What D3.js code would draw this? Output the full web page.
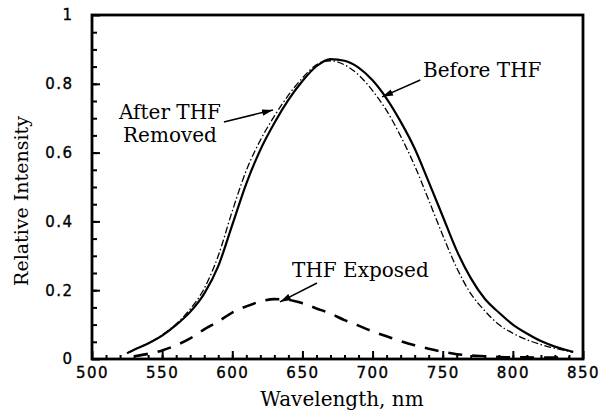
<!DOCTYPE html>
<html>
<head>
<meta charset="utf-8">
<script src="https://cdnjs.cloudflare.com/ajax/libs/d3/7.8.5/d3.min.js"></script>
<style>
  body { margin: 0; background: #fff; }
  .tick text { font-family: "DejaVu Sans", sans-serif; font-size: 15px; letter-spacing: 1.5px; fill: #000; stroke: #000; stroke-width: 0.35px; }
  .serif { font-family: "DejaVu Serif", serif; fill: #000; }
</style>
</head>
<body>
<div id="chart"></div>
<script>
// wavelength (nm) / relative intensity
var beforeWl  = [525, 530, 540, 550, 560, 570, 580, 590, 600, 610, 620, 630, 640, 650, 660, 670, 680, 690, 700, 710, 720, 730, 740, 750, 760, 770, 780, 790, 800, 810, 820, 830, 840, 843];
var beforeVal = [0.017, 0.027, 0.045, 0.068, 0.099, 0.137, 0.19, 0.27, 0.39, 0.51, 0.608, 0.686, 0.753, 0.808, 0.851, 0.872, 0.867, 0.847, 0.81, 0.757, 0.69, 0.612, 0.515, 0.415, 0.315, 0.235, 0.175, 0.135, 0.1, 0.074, 0.052, 0.036, 0.024, 0.021];

var afterWl  = [525, 530, 540, 550, 560, 570, 580, 590, 600, 610, 620, 630, 640, 650, 660, 665, 670, 680, 690, 700, 710, 720, 730, 740, 750, 760, 770, 780, 790, 800, 810, 820, 830, 840, 843];
var afterVal = [0.017, 0.027, 0.046, 0.07, 0.102, 0.145, 0.205, 0.30, 0.43, 0.548, 0.636, 0.706, 0.767, 0.817, 0.855, 0.865, 0.867, 0.855, 0.826, 0.78, 0.722, 0.648, 0.562, 0.462, 0.36, 0.265, 0.19, 0.14, 0.1, 0.075, 0.056, 0.042, 0.031, 0.022, 0.019];

var exposedWl  = [530, 540, 550, 560, 570, 580, 590, 600, 610, 620, 630, 640, 650, 660, 670, 680, 690, 700, 710, 720, 730, 740, 750, 760, 770, 780, 790, 800, 810, 820, 830, 840];
var exposedVal = [0.008, 0.015, 0.025, 0.04, 0.06, 0.086, 0.109, 0.135, 0.153, 0.167, 0.174, 0.172, 0.162, 0.147, 0.132, 0.113, 0.097, 0.08, 0.066, 0.052, 0.04, 0.03, 0.021, 0.014, 0.01, 0.008, 0.006, 0.005, 0.005, 0.004, 0.004, 0.004];

var xTicks = [500, 550, 600, 650, 700, 750, 800, 850];
var xTickLabels = ["500", "550", "600", "650", "700", "750", "800", "850"];
var yTicks = [0, 0.2, 0.4, 0.6, 0.8, 1];
var yTickLabels = ["0", "0.2", "0.4", "0.6", "0.8", "1"];

// annotations: text anchor and arrow tail -> tip, in data units
var notes = [
  {lines: ["After THF", "Removed"], at: [555.6, 0.698], anchor: "middle", from: [594, 0.689], to: [629, 0.724]},
  {lines: ["Before THF"], at: [736, 0.82], anchor: "start", from: [734, 0.811], to: [706.8, 0.762]},
  {lines: ["THF Exposed"], at: [642.6, 0.238], anchor: "start", from: [660.4, 0.221], to: [634, 0.166]}
];

var margin = {top: 15, right: 18, bottom: 52, left: 92},
    width = 601 - margin.left - margin.right,
    height = 411 - margin.top - margin.bottom;

var svg = d3.select("#chart").append("svg")
    .attr("width", 601)
    .attr("height", 411);

svg.append("defs").append("marker")
    .attr("id", "head")
    .attr("viewBox", "0 0 10 6")
    .attr("refX", 10).attr("refY", 3)
    .attr("markerWidth", 11).attr("markerHeight", 7)
    .attr("markerUnits", "userSpaceOnUse")
    .attr("orient", "auto")
  .append("path")
    .attr("d", "M0,0L10,3L0,6Z")
    .attr("fill", "#000");

var g = svg.append("g")
    .attr("transform", "translate(" + margin.left + "," + margin.top + ")");

var x = d3.scaleLinear().domain([500, 850]).range([0, width]);
var y = d3.scaleLinear().domain([0, 1]).range([height, 0]);

// minor ticks
g.append("g")
    .attr("transform", "translate(0," + height + ")")
    .call(d3.axisBottom(x).tickValues(d3.range(510, 850, 10)).tickSize(-4).tickFormat(""))
    .call(function(a) { a.select(".domain").remove(); });
g.append("g")
    .call(d3.axisLeft(y).tickValues(d3.range(0.05, 1, 0.05)).tickSize(-5).tickFormat(""))
    .call(function(a) { a.select(".domain").remove(); });

// major ticks + labels
g.append("g")
    .attr("transform", "translate(0," + height + ")")
    .call(d3.axisBottom(x).tickValues(xTicks).tickSize(-8).tickPadding(8)
      .tickFormat(function(d, i) { return xTickLabels[i]; }))
    .call(function(a) { a.select(".domain").remove(); });
g.append("g")
    .call(d3.axisLeft(y).tickValues(yTicks).tickSize(-8).tickPadding(18.5)
      .tickFormat(function(d, i) { return yTickLabels[i]; }))
    .call(function(a) { a.select(".domain").remove(); });

g.selectAll(".tick line").attr("stroke", "#000").attr("stroke-width", 2);

var line = d3.line()
    .x(function(d) { return x(d[0]); })
    .y(function(d) { return y(d[1]); })
    .curve(d3.curveMonotoneX);

function zip(a, b) { return a.map(function(v, i) { return [v, b[i]]; }); }

g.append("path")
    .datum(zip(afterWl, afterVal))
    .attr("d", line)
    .attr("fill", "none")
    .attr("stroke", "#000")
    .attr("stroke-width", 1.3)
    .attr("stroke-dasharray", "7,2.5,1.5,2.5");

g.append("path")
    .datum(zip(beforeWl, beforeVal))
    .attr("d", line)
    .attr("fill", "none")
    .attr("stroke", "#000")
    .attr("stroke-width", 2.2);

g.append("path")
    .datum(zip(exposedWl, exposedVal))
    .attr("d", line)
    .attr("fill", "none")
    .attr("stroke", "#000")
    .attr("stroke-width", 2.6)
    .attr("stroke-dasharray", "14,10");

// frame
g.append("rect")
    .attr("width", width)
    .attr("height", height)
    .attr("fill", "none")
    .attr("stroke", "#000")
    .attr("stroke-width", 2.8);

// annotations
notes.forEach(function(n) {
  var t = g.append("text")
      .attr("class", "serif")
      .attr("font-size", 20)
      .attr("text-anchor", n.anchor)
      .attr("x", x(n.at[0]))
      .attr("y", y(n.at[1]));
  n.lines.forEach(function(s, i) {
    t.append("tspan")
        .attr("x", x(n.at[0]))
        .attr("dy", i == 0 ? 0 : 23)
        .text(s);
  });
  g.append("line")
      .attr("x1", x(n.from[0])).attr("y1", y(n.from[1]))
      .attr("x2", x(n.to[0])).attr("y2", y(n.to[1]))
      .attr("stroke", "#000")
      .attr("stroke-width", 1.5)
      .attr("marker-end", "url(#head)");
});

// axis titles
svg.append("text")
    .attr("class", "serif")
    .attr("font-size", 20)
    .attr("text-anchor", "middle")
    .attr("x", 342)
    .attr("y", 406)
    .text("Wavelength, nm");

svg.append("text")
    .attr("class", "serif")
    .attr("font-size", 19)
    .attr("text-anchor", "middle")
    .attr("transform", "translate(28,201) rotate(-90)")
    .text("Relative Intensity");
</script>
</body>
</html>
